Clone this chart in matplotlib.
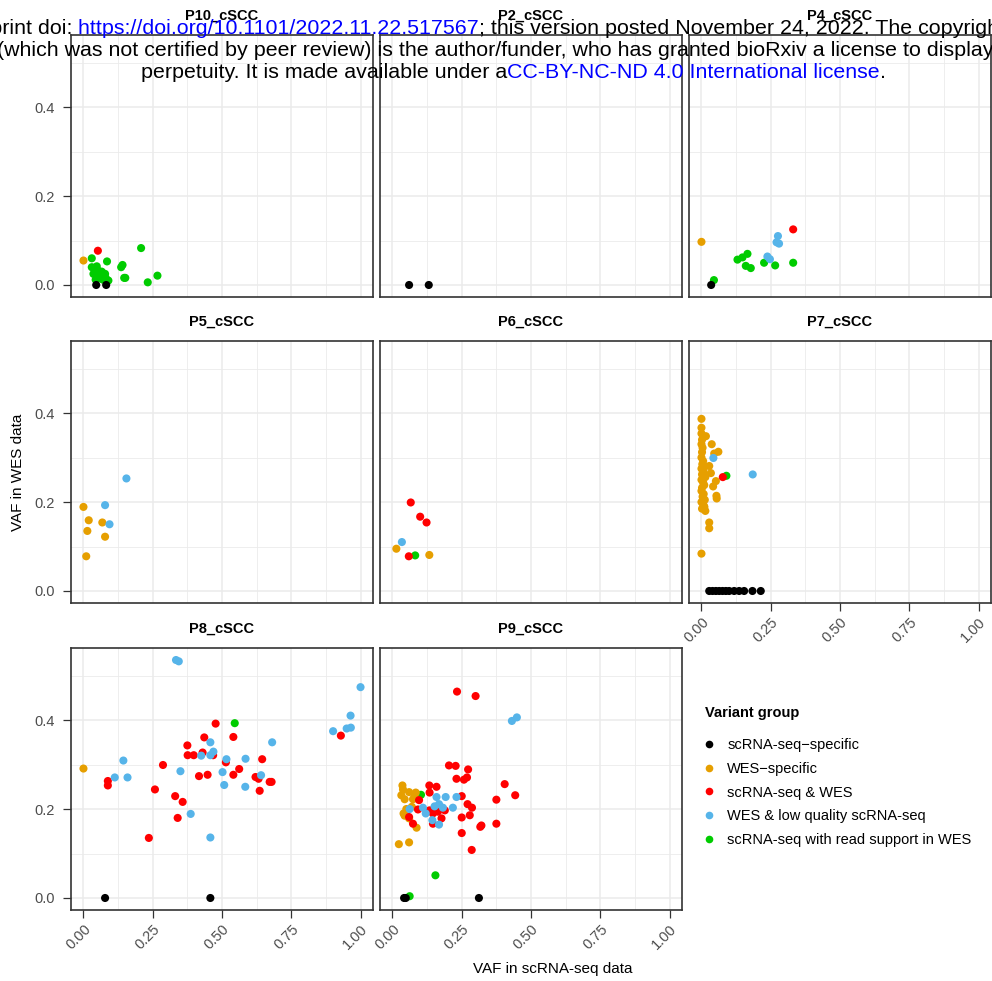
import matplotlib.pyplot as plt
from matplotlib.lines import Line2D

plt.rcParams['font.family'] = ['Liberation Sans', 'DejaVu Sans']

# variant groups: S scRNA-seq specific, W WES specific, B scRNA-seq & WES,
# L WES & low quality scRNA-seq, R scRNA-seq with read support in WES
group_codes = ["S", "W", "B", "L", "R"]
group_labels = ["scRNA-seq\u2212specific", "WES\u2212specific", "scRNA-seq & WES",
                "WES & low quality scRNA-seq", "scRNA-seq with read support in WES"]
group_colors = ["#000000", "#E69F00", "#FF0000", "#56B4E9", "#00CC00"]
draw_order = ["R", "W", "B", "L", "S"]

samples = ["P10_cSCC", "P2_cSCC", "P4_cSCC", "P5_cSCC", "P6_cSCC",
           "P7_cSCC", "P8_cSCC", "P9_cSCC"]

# VAF in scRNA-seq (x), VAF in WES (y), variant group per point
p10_x = [0.052, 0.000, 0.046, 0.082,
         0.030, 0.085, 0.208, 0.141, 0.136, 0.147, 0.151, 0.232, 0.267, 0.030, 0.042, 0.054,
         0.066, 0.078, 0.036, 0.050, 0.060, 0.070, 0.090, 0.058, 0.048, 0.064, 0.080, 0.044]
p10_y = [0.077, 0.055, 0.000, 0.000,
         0.060, 0.053, 0.083, 0.045, 0.040, 0.016, 0.016, 0.006, 0.021, 0.040, 0.036, 0.032,
         0.030, 0.025, 0.025, 0.020, 0.015, 0.012, 0.010, 0.028, 0.042, 0.020, 0.016, 0.012]
p10_grp = "BWSS" + "RRRRRRRRRRRRRRRRRRRRRRRR"

p2_x = [0.060, 0.131]
p2_y = [0.000, 0.000]
p2_grp = "SS"

p4_x = [0.000, 0.035, 0.331, 0.276, 0.271, 0.280, 0.238, 0.247,
        0.045, 0.130, 0.148, 0.166, 0.160, 0.178, 0.226, 0.266, 0.331]
p4_y = [0.097, 0.000, 0.125, 0.110, 0.096, 0.093, 0.064, 0.058,
        0.011, 0.057, 0.062, 0.070, 0.043, 0.038, 0.050, 0.044, 0.050]
p4_grp = "WSBLLLLL" + "RRRRRRRRR"

p5_x = [0.155, 0.078, 0.094, 0.000, 0.019, 0.014, 0.068, 0.078, 0.010]
p5_y = [0.253, 0.193, 0.150, 0.189, 0.159, 0.135, 0.154, 0.122, 0.078]
p5_grp = "LLLWWWWWW"

p6_x = [0.066, 0.100, 0.123, 0.034, 0.014, 0.059, 0.082, 0.133]
p6_y = [0.199, 0.167, 0.154, 0.110, 0.095, 0.078, 0.080, 0.081]
p6_grp = "BBBLWBRW"

p7_x = [0.185, 0.077, 0.090, 0.043,
        0.000, 0.000, 0.000, 0.016, 0.037, 0.061, 0.046,
        0.002, 0.000, 0.004, 0.002, 0.000, 0.006, 0.003, 0.012, 0.000, 0.008, 0.002, 0.014,
        0.000, 0.006, 0.010, 0.002, 0.000, 0.008, 0.004, 0.012, 0.000, 0.006, 0.010, 0.002, 0.014,
        0.028, 0.034, 0.052, 0.042, 0.054, 0.055, 0.010, 0.028, 0.028, 0.000,
        0.028, 0.040, 0.052, 0.064, 0.076, 0.088, 0.100, 0.118, 0.136, 0.154, 0.184, 0.214]
p7_y = [0.262, 0.256, 0.259, 0.299,
        0.387, 0.367, 0.354, 0.348, 0.330, 0.313, 0.309,
        0.340, 0.330, 0.322, 0.312, 0.300, 0.292, 0.285, 0.280, 0.275, 0.268, 0.262, 0.256,
        0.250, 0.244, 0.238, 0.232, 0.225, 0.218, 0.212, 0.205, 0.200, 0.195, 0.190, 0.185, 0.180,
        0.281, 0.265, 0.247, 0.235, 0.214, 0.208, 0.188, 0.154, 0.141, 0.084,
        0.000, 0.000, 0.000, 0.000, 0.000, 0.000, 0.000, 0.000, 0.000, 0.000, 0.000, 0.000]
p7_grp = "LBRL" + "W" * 42 + "S" * 12

p8_x = [0.334, 0.344, 1.000, 0.964, 0.950, 0.965, 0.901, 0.681, 0.458, 0.469, 0.425, 0.458,
        0.516, 0.585, 0.144, 0.113, 0.159, 0.350, 0.502, 0.508, 0.584, 0.641, 0.387, 0.458,
        0.477, 0.541, 0.436, 0.375, 0.430, 0.468, 0.376, 0.398, 0.514, 0.645, 0.287, 0.562,
        0.541, 0.417, 0.448, 0.621, 0.632, 0.672, 0.679, 0.636, 0.088, 0.088, 0.258, 0.331,
        0.358, 0.340, 0.236, 0.929,
        0.546, 0.000, 0.078, 0.458]
p8_y = [0.535, 0.532, 0.474, 0.410, 0.381, 0.383, 0.375, 0.350, 0.350, 0.329, 0.320, 0.321,
        0.312, 0.313, 0.309, 0.271, 0.271, 0.285, 0.283, 0.254, 0.250, 0.276, 0.189, 0.136,
        0.392, 0.362, 0.361, 0.343, 0.327, 0.321, 0.321, 0.321, 0.305, 0.312, 0.299, 0.290,
        0.277, 0.274, 0.277, 0.272, 0.268, 0.261, 0.261, 0.241, 0.263, 0.253, 0.244, 0.229,
        0.216, 0.180, 0.135, 0.365,
        0.393, 0.291, 0.000, 0.000]
p8_grp = "L" * 24 + "B" * 28 + "RWSS"

p9_x = [0.233, 0.300, 0.204, 0.228, 0.273, 0.231, 0.258, 0.269, 0.405, 0.443, 0.375, 0.133,
        0.159, 0.134, 0.250, 0.096, 0.271, 0.287, 0.279, 0.250, 0.321, 0.317, 0.375, 0.250,
        0.286, 0.134, 0.146, 0.164, 0.177, 0.189, 0.146, 0.092, 0.074, 0.060,
        0.036, 0.038, 0.060, 0.084, 0.032, 0.044, 0.074, 0.080, 0.050, 0.044, 0.060, 0.087,
        0.023, 0.060, 0.040, 0.070,
        0.431, 0.449, 0.062, 0.110, 0.120, 0.159, 0.192, 0.231, 0.152, 0.168, 0.182, 0.218,
        0.144, 0.168,
        0.103, 0.155, 0.062,
        0.042, 0.048, 0.312]
p9_y = [0.464, 0.454, 0.298, 0.297, 0.289, 0.268, 0.266, 0.271, 0.256, 0.231, 0.221, 0.253,
        0.250, 0.237, 0.229, 0.220, 0.211, 0.203, 0.186, 0.181, 0.163, 0.160, 0.167, 0.146,
        0.108, 0.197, 0.190, 0.194, 0.179, 0.197, 0.167, 0.199, 0.167, 0.182,
        0.253, 0.244, 0.238, 0.237, 0.231, 0.222, 0.222, 0.227, 0.200, 0.185, 0.179, 0.158,
        0.121, 0.125, 0.190, 0.205,
        0.398, 0.406, 0.200, 0.203, 0.190, 0.227, 0.227, 0.227, 0.206, 0.211, 0.203, 0.203,
        0.175, 0.165,
        0.232, 0.051, 0.004,
        0.000, 0.000, 0.000]
p9_grp = "B" * 34 + "W" * 16 + "L" * 14 + "RRR" + "SSS"

panel_x = [p10_x, p2_x, p4_x, p5_x, p6_x, p7_x, p8_x, p9_x]
panel_y = [p10_y, p2_y, p4_y, p5_y, p6_y, p7_y, p8_y, p9_y]
panel_grp = [p10_grp, p2_grp, p4_grp, p5_grp, p6_grp, p7_grp, p8_grp, p9_grp]

x_ticks = [0, 0.25, 0.5, 0.75, 1.0]
x_tick_labels = ["0.00", "0.25", "0.50", "0.75", "1.00"]
y_ticks = [0.0, 0.2, 0.4]
y_tick_labels = ["0.0", "0.2", "0.4"]

W, H = 992, 981
fig = plt.figure(figsize=(W / 100, H / 100), dpi=100)

col_left = [71, 380, 689]
row_top = [35, 341, 648]
pw, ph = 302, 262
tick_col = "#4D4D4D"

for i, name in enumerate(samples):
    r, c = divmod(i, 3)
    ax = fig.add_axes([col_left[c] / W, 1 - (row_top[r] + ph) / H, pw / W, ph / H])
    xs, ys, gs = panel_x[i], panel_y[i], panel_grp[i]
    for code in draw_order:
        k = group_codes.index(code)
        px = [x for x, g in zip(xs, gs) if g == code]
        py = [y for y, g in zip(ys, gs) if g == code]
        if px:
            ax.scatter(px, py, s=34, color=group_colors[k], edgecolors='none', zorder=3)

    ax.set_xlim(-0.045, 1.045)
    ax.set_ylim(-0.027, 0.562)
    ax.set_xticks(x_ticks)
    ax.set_xticks([0.125, 0.375, 0.625, 0.875], minor=True)
    ax.set_yticks(y_ticks)
    ax.set_yticks([0.1, 0.3, 0.5], minor=True)
    ax.grid(which='major', color='#EBEBEB', lw=1.1, zorder=0)
    ax.grid(which='minor', color='#EBEBEB', lw=0.6, zorder=0)
    ax.set_axisbelow(True)
    for sp in ax.spines.values():
        sp.set_color('#333333')
        sp.set_linewidth(1.2)
    ax.tick_params(which='minor', length=0)
    ax.tick_params(which='major', length=5.5, width=0.9, color='#333333',
                   labelsize=10.5, labelcolor=tick_col, pad=6)

    if c == 0:
        ax.set_yticklabels(y_tick_labels)
    else:
        ax.tick_params(axis='y', length=0, labelleft=False)

    # x axis shown only on panels with nothing beneath them
    if r == 2 or (r == 1 and c == 2):
        ax.tick_params(axis='x', pad=3)
        ax.set_xticklabels(x_tick_labels)
        plt.setp(ax.get_xticklabels(), rotation=45, ha='right', va='top',
                 rotation_mode='anchor')
    else:
        ax.tick_params(axis='x', length=0, labelbottom=False)

    ax.set_title(name, fontsize=10.5, fontweight='bold', pad=11)

fig.text(18 / W, 1 - 472 / H, "VAF in WES data", rotation=90, ha='center', va='center',
         fontsize=11)
fig.text(553 / W, 1 - 969 / H, "VAF in scRNA-seq data", ha='center', va='center',
         fontsize=11)

# legend: title placed separately so the gap under it can be set
fig.text(705 / W, 1 - 713 / H, "Variant group", fontsize=10.5, fontweight='bold',
         ha='left', va='center')
handles = [Line2D([], [], marker='o', ls='', color=col, markersize=5.5, markeredgewidth=0)
           for col in group_colors]
fig.legend(handles, group_labels, loc='upper left', bbox_to_anchor=(703 / W, 1 - 738 / H),
           frameon=False, fontsize=10.5, handlelength=0.8, handletextpad=0.85,
           labelspacing=0.67, borderpad=0, borderaxespad=0)

# bioRxiv stamp over the top of the figure
renderer = fig.canvas.get_renderer()
link = "#0000FF"


def stamp_line(pieces, anchor, x_px, y_px, size=15.4):
    texts = [fig.text(0, 1 - y_px / H, s, color=col, fontsize=size, va='baseline', ha='left',
                      zorder=10) for s, col in pieces]
    widths = [t.get_window_extent(renderer).width for t in texts]
    x = x_px - sum(widths[:anchor])
    for t, w in zip(texts, widths):
        t.set_x(x / W)
        x += w


stamp_line([("bioRxiv preprint doi:", "black"),
            (" https://doi.org/10.1101/2022.11.22.517567", link),
            ("; this version posted November 24, 2022. The copyright holder for this preprint",
             "black")], 1, 72, 34)
stamp_line([("(which was not certified by peer review) is the author/funder, who has granted "
             "bioRxiv a license to display the preprint in", "black")], 0, -3, 56)
stamp_line([("perpetuity. It is made available under a", "black"),
            ("CC-BY-NC-ND 4.0 International license", link),
            (".", "black")], 0, 141, 78)

fig.savefig("out.png", dpi=100)
